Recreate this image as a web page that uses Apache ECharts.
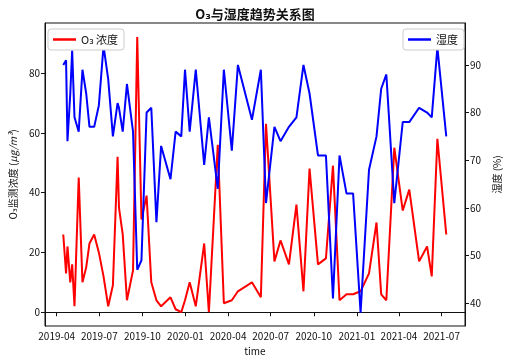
<!DOCTYPE html>
<html>
<head>
<meta charset="utf-8">
<script src="https://cdn.jsdelivr.net/npm/echarts@6/dist/echarts.min.js"></script>
<style>
  html, body { margin: 0; padding: 0; background: #fff; }
  #chart { width: 510px; height: 361px; }
</style>
</head>
<body>
<div id="chart"></div>
<script>
// sample dates (irregular sampling)
const dates = [
  '2019-04-15', '2019-04-21', '2019-04-24', '2019-04-30', '2019-05-04', '2019-05-09',
  '2019-05-18', '2019-05-26', '2019-06-03', '2019-06-10', '2019-06-20', '2019-06-30',
  '2019-07-10', '2019-07-20', '2019-07-30', '2019-08-09', '2019-08-12', '2019-08-20',
  '2019-08-29', '2019-09-11', '2019-09-20', '2019-09-29', '2019-10-10', '2019-10-20',
  '2019-10-31', '2019-11-10', '2019-11-30', '2019-12-11', '2019-12-23', '2019-12-31',
  '2020-01-10', '2020-01-23', '2020-02-10', '2020-02-20', '2020-03-10', '2020-03-23',
  '2020-04-09', '2020-04-22', '2020-05-22', '2020-06-10', '2020-06-21', '2020-07-09',
  '2020-07-22', '2020-08-09', '2020-08-25', '2020-09-09', '2020-09-22', '2020-10-10',
  '2020-10-27', '2020-11-11', '2020-11-25', '2020-12-10', '2020-12-24', '2021-01-09',
  '2021-01-27', '2021-02-12', '2021-02-22', '2021-03-05', '2021-03-22', '2021-04-09',
  '2021-04-23', '2021-05-14', '2021-05-31', '2021-06-10', '2021-06-22', '2021-07-11',
];

// O3 concentration (left axis)
const o3Values = [
  26, 13, 22, 10, 16, 2,
  45, 10, 15, 23, 26, 20,
  12, 2, 9, 52, 35, 26,
  4, 14, 92, 31, 39, 10,
  4, 2, 5, 1, 0, 4,
  10, 2, 23, 0, 56, 3,
  4, 7, 10, 5, 63, 17,
  24, 16, 36, 7, 48, 16,
  18, 49, 4, 6, 6, 7,
  13, 30, 6, 4, 55, 34,
  41, 17, 22, 12, 58, 26,
];

// humidity % (right axis)
const humidityValues = [
  90, 91, 74, 84, 93, 79,
  76, 89, 84, 77, 77, 81.5,
  94, 87, 75, 82, 81, 76,
  86, 76, 47, 49, 80, 81,
  57, 73, 66, 76, 75, 89,
  76, 89, 69, 79, 64, 89,
  72, 90, 78.5, 89, 61, 77,
  74, 77, 79, 90, 84, 71,
  71, 41, 71, 63, 63, 38,
  68, 75, 85, 88, 61, 78,
  78, 81, 80, 79, 93.7, 75,
];

const xTickLabels = ['2019-04', '2019-07', '2019-10', '2020-01', '2020-04',
  '2020-07', '2020-10', '2021-01', '2021-04', '2021-07'];
const leftTicks = [0, 20, 40, 60, 80];
const rightTicks = [40, 50, 60, 70, 80, 90];

const toTime = s => +new Date(s);
const xTickValues = xTickLabels.map(s => toTime(`${s}-01`));
const font = '"Noto Sans CJK SC", "DejaVu Sans", sans-serif';
const ink = '#111';

const myChart = echarts.init(document.getElementById('chart'), null, { renderer: 'canvas' });

const axisCommon = {
  axisLine: { show: true, lineStyle: { color: ink, width: 1 } },
  axisTick: { show: true, inside: false, length: 4, lineStyle: { color: ink } },
  splitLine: { show: false },
};

const option = {
  animation: false,
  backgroundColor: '#fff',
  title: {
    text: 'O₃与湿度趋势关系图',
    left: 'center',
    top: 3,
    textStyle: { fontFamily: font, fontSize: 13, fontWeight: 'bold', color: ink },
  },
  grid: {
    left: 43, right: 40, top: 23, bottom: 35,
    show: true, borderColor: ink, borderWidth: 1, backgroundColor: 'transparent',
  },
  legend: [
    {
      data: ['O₃ 浓度'],
      left: 48, top: 29,
      icon: 'rect', itemWidth: 23, itemHeight: 2.5, itemGap: 6,
      padding: [5, 6, 5, 5],
      backgroundColor: '#fff', borderColor: '#ccc', borderWidth: 1, borderRadius: 3,
      textStyle: { fontFamily: font, fontSize: 11, color: ink },
    },
    {
      data: ['湿度'],
      right: 46, top: 29,
      icon: 'rect', itemWidth: 23, itemHeight: 2.5,
      padding: [5, 6, 5, 5],
      backgroundColor: '#fff', borderColor: '#ccc', borderWidth: 1, borderRadius: 3,
      textStyle: { fontFamily: font, fontSize: 11, color: ink },
    },
  ],
  xAxis: {
    type: 'value',
    min: toTime('2019-03-07'),
    max: toTime('2021-08-20'),
    name: 'time',
    nameLocation: 'middle',
    nameGap: 20,
    nameTextStyle: { fontFamily: font, fontSize: 10, color: ink },
    ...axisCommon,
    axisTick: { ...axisCommon.axisTick, customValues: xTickValues },
    axisLabel: {
      customValues: xTickValues,
      fontFamily: font, fontSize: 10, color: ink, margin: 5,
      formatter: v => xTickLabels[xTickValues.indexOf(v)] || '',
    },
  },
  yAxis: [
    {
      type: 'value',
      min: -4.6, max: 96.7,
      name: 'O₃监测浓度 ({i|μg/m³})',
      nameLocation: 'middle',
      nameGap: 24,
      nameTextStyle: {
        fontFamily: font, fontSize: 10, color: ink,
        rich: { i: { fontFamily: font, fontSize: 10, fontStyle: 'italic', color: ink } },
      },
      ...axisCommon,
      axisTick: { ...axisCommon.axisTick, customValues: leftTicks },
      axisLabel: { customValues: leftTicks, fontFamily: font, fontSize: 10, color: ink, margin: 5 },
    },
    {
      type: 'value',
      min: 35.2, max: 98.8,
      position: 'right',
      name: '湿度 (%)',
      nameLocation: 'middle',
      nameRotate: 90,
      nameGap: 24,
      nameTextStyle: { fontFamily: font, fontSize: 10, color: ink },
      ...axisCommon,
      axisTick: { ...axisCommon.axisTick, customValues: rightTicks },
      axisLabel: { customValues: rightTicks, fontFamily: font, fontSize: 10, color: ink, margin: 5 },
    },
  ],
  series: [
    {
      name: 'O₃ 浓度',
      type: 'line',
      yAxisIndex: 0,
      symbol: 'none',
      lineStyle: { color: '#ff0000', width: 2 },
      itemStyle: { color: '#ff0000' },
      data: dates.map((d, i) => [toTime(d), o3Values[i]]),
    },
    {
      name: '湿度',
      type: 'line',
      yAxisIndex: 1,
      symbol: 'none',
      lineStyle: { color: '#0000ff', width: 2 },
      itemStyle: { color: '#0000ff' },
      data: dates.map((d, i) => [toTime(d), humidityValues[i]]),
    },
  ],
};

myChart.setOption(option);
</script>
</body>
</html>
